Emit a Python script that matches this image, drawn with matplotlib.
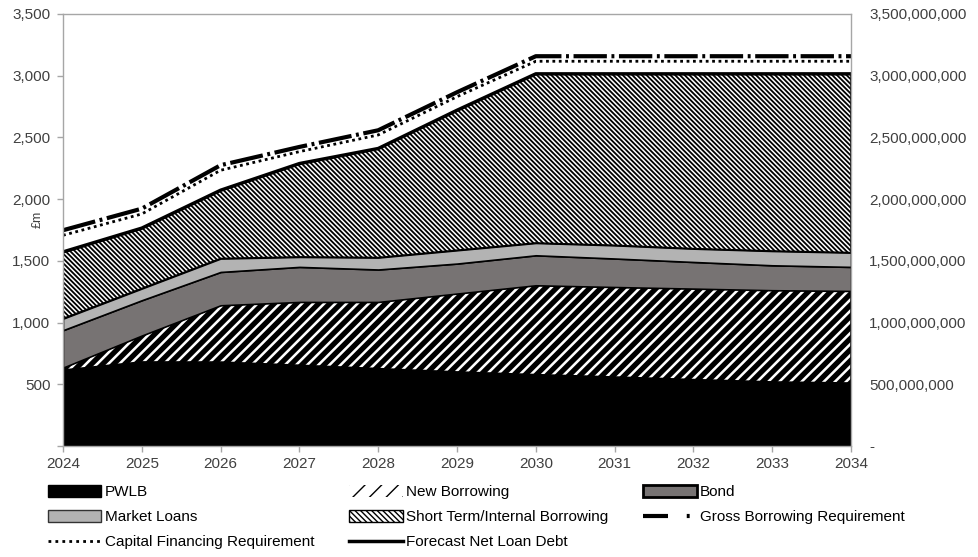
import numpy as np
import matplotlib
matplotlib.use('Agg')
import matplotlib.pyplot as plt
from matplotlib.patches import Patch
from matplotlib.lines import Line2D
from matplotlib.ticker import FuncFormatter

plt.rcParams['font.family'] = ['Liberation Sans', 'DejaVu Sans']

# data (£m)
years = [2024, 2025, 2026, 2027, 2028, 2029, 2030, 2031, 2032, 2033, 2034]
pwlb = [615, 681, 680, 654, 627, 600, 578, 559, 538, 519, 510]
new_borrowing = [20, 214, 460, 513, 540, 635, 724, 729, 737, 743, 746]
bond = [303, 286, 270, 284, 263, 243, 243, 231, 216, 202, 195]
market_loans = [94, 95, 109, 81, 97, 108, 100, 107, 108, 116, 116]
short_term = [540, 489, 553, 756, 883, 1134, 1370, 1389, 1416, 1435, 1448]
gross_borrowing = [1748, 1923, 2275, 2423, 2558, 2866, 3158, 3158, 3158, 3158, 3158]
cfr = [1707, 1880, 2234, 2385, 2520, 2830, 3117, 3117, 3117, 3117, 3117]
net_loan_debt = [1572, 1765, 2072, 2288, 2410, 2720, 3015, 3015, 3015, 3015, 3015]

left_ticks = [0, 500, 1000, 1500, 2000, 2500, 3000, 3500]

fig = plt.figure(figsize=(9.79, 5.57), dpi=100)
ax = fig.add_axes([63 / 979, 1 - 446 / 557, (851 - 63) / 979, (446 - 14) / 557])

x = np.array(years)
layers = [pwlb, new_borrowing, bond, market_loans, short_term]
styles = [
    dict(facecolor='black', hatch=None, hlw=1.0),
    dict(facecolor='white', hatch='///', hlw=3.8),
    dict(facecolor='#777373', hatch=None, hlw=1.0),
    dict(facecolor='#b3b3b3', hatch=None, hlw=1.0),
    dict(facecolor='white', hatch='\\' * 7, hlw=1.3),
]

base = np.zeros(len(years))
for vals, st in zip(layers, styles):
    top = base + np.array(vals)
    plt.rcParams['hatch.linewidth'] = st['hlw']
    coll = ax.fill_between(x, base, top, facecolor=st['facecolor'], edgecolor='black',
                           hatch=st['hatch'], linewidth=1.2)
    if hasattr(coll, 'set_hatch_linewidth'):
        coll.set_hatch_linewidth(st['hlw'])
    base = top

ax.plot(x, net_loan_debt, color='black', lw=2.5, solid_capstyle='butt')
ax.plot(x, cfr, color='black', lw=2.0, dashes=(1, 1.3))
ax.plot(x, gross_borrowing, color='black', lw=3.0, dashes=(8.0, 1.1, 0.7, 1.1))

ax.set_xlim(2024, 2034)
ax.set_ylim(0, 3500)
ax.set_xticks(years)
ax.set_yticks(left_ticks)
ax.yaxis.set_major_formatter(FuncFormatter(lambda v, p: '' if v == 0 else f'{int(v):,}'))
ax.tick_params(axis='both', labelsize=11, labelcolor='#404040', color='#a6a6a6',
               length=4, width=1)
ax.tick_params(axis='x', pad=4)
ax.tick_params(axis='y', pad=5)
for sp in ax.spines.values():
    sp.set_color('#a6a6a6')
    sp.set_linewidth(1)
fig.text(38 / 979, 1 - 219 / 557, '£m', rotation=90, fontsize=9, color='#404040',
         ha='center', va='center')

# secondary axis in pounds
ax2 = ax.twinx()
ax2.set_ylim(0, 3500e6)
ax2.set_yticks([v * 1e6 for v in left_ticks])
ax2.yaxis.set_major_formatter(FuncFormatter(lambda v, p: '-' if v == 0 else f'{int(v):,}'))
ax2.tick_params(axis='y', labelsize=11, labelcolor='#404040', length=0, pad=13)
for sp in ax2.spines.values():
    sp.set_visible(False)

# legend, filled row by row
plt.rcParams['hatch.linewidth'] = 4.0
h_nb = Patch(facecolor='white', edgecolor='black', hatch='//', linewidth=0, label='New Borrowing')
if hasattr(h_nb, 'set_hatch_linewidth'):
    h_nb.set_hatch_linewidth(4.0)
h_pwlb = Patch(facecolor='black', edgecolor='black', label='PWLB')
h_bond = Patch(facecolor='#777373', edgecolor='black', linewidth=2, label='Bond')
h_ml = Patch(facecolor='#b3b3b3', edgecolor='#333333', linewidth=1, label='Market Loans')
plt.rcParams['hatch.linewidth'] = 1.0
h_st = Patch(facecolor='white', edgecolor='black', hatch='\\' * 6, linewidth=1, label='Short Term/Internal Borrowing')
h_gbr = Line2D([], [], color='black', lw=3, dashes=(6, 4.5, 0.7, 5), label='Gross Borrowing Requirement')
h_cfr = Line2D([], [], color='black', lw=2, dashes=(1, 1.5), label='Capital Financing Requirement')
h_nld = Line2D([], [], color='black', lw=2.5, label='Forecast Net Loan Debt')

handles = [h_pwlb, h_ml, h_cfr, h_nb, h_st, h_nld, h_bond, h_gbr]
fig.legend(handles=handles, loc='upper left', bbox_to_anchor=(48 / 979, 1 - 485 / 557),
           ncol=3, frameon=False, fontsize=11, handlelength=3.5, handleheight=0.8,
           handletextpad=0.2, columnspacing=2.3, labelspacing=0.72,
           borderaxespad=0, borderpad=0)

fig.savefig('out.png', dpi=100)
